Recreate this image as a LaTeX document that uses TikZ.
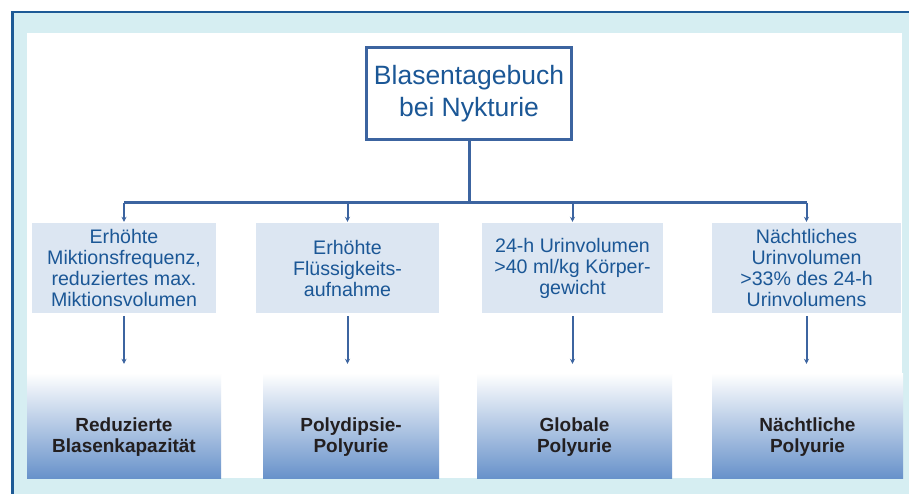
\documentclass[tikz,border=0pt]{standalone}
\usepackage{fontspec}
\setmainfont{Liberation Sans}
\usetikzlibrary{arrows.meta}
\definecolor{frameblue}{HTML}{1D5A96}
\definecolor{framecyan}{HTML}{D6EEF2}
\definecolor{linecol}{HTML}{3C64A0}
\definecolor{txtblue}{HTML}{1B5796}
\definecolor{midfill}{HTML}{DCE6F2}
\definecolor{botblue}{HTML}{6892CA}
\definecolor{darktxt}{HTML}{231F20}
\tikzset{
  topbox/.style={draw=linecol, line width=3pt, fill=white, minimum width=205pt, minimum height=92pt, align=center, text=txtblue, font=\fontsize{26.5}{31.5}\selectfont, inner sep=0pt},
  midbox/.style={fill=midfill, minimum height=90pt, align=center, text=txtblue, font=\fontsize{19.6}{21}\selectfont, inner sep=0pt},
  botbox/.style={shade, top color=white, bottom color=botblue, minimum height=105pt, inner sep=0pt},
  bottxt/.style={align=center, text=darktxt, font=\bfseries\fontsize{19}{21}\selectfont, inner sep=0pt},
  conn/.style={draw=linecol, line width=3pt},
  arr/.style={draw=linecol, line width=2pt, -{Stealth[length=5pt,width=5pt]}}
}
\begin{document}
\begin{tikzpicture}[x=1pt,y=-1pt]
\useasboundingbox (0,0) rectangle (909,494);
% frame
\fill[framecyan] (12,11) rectangle (909,494);
\draw[frameblue, line width=2.5pt] (12.5,494) -- (12.5,12) -- (909,12);
\fill[white] (27,33) rectangle (902,478);
% top
\node[topbox] (top) at (469,93.5) {Blasentagebuch\\bei Nykturie};
% middle boxes
\node[midbox, minimum width=184pt] (m1) at (124,268) {Erhöhte\\Miktionsfrequenz,\\reduziertes max.\\Miktionsvolumen};
\node[midbox, minimum width=183pt] (m2) at (347.5,268) {Erhöhte\\Flüssigkeits-\\aufnahme};
\node[midbox, minimum width=181pt] (m3) at (572.5,268) {24-h Urinvolumen\\>40 ml/kg Körper-\\gewicht};
\node[midbox, minimum width=189pt] (m4) at (806.5,268) {Nächtliches\\Urinvolumen\\>33\% des 24-h\\Urinvolumens};
% bottom boxes
\node[botbox, minimum width=194pt] (b1) at (124,425.5) {};
\node[botbox, minimum width=176pt] (b2) at (351,425.5) {};
\node[botbox, minimum width=195pt] (b3) at (574.5,425.5) {};
\node[botbox, minimum width=191pt] (b4) at (807.5,425.5) {};
\node[bottxt] (t1) at (124,437) {Reduzierte\\Blasenkapazität};
\node[bottxt] (t2) at (351,437) {Polydipsie-\\Polyurie};
\node[bottxt] (t3) at (574.5,437) {Globale\\Polyurie};
\node[bottxt] (t4) at (807.5,437) {Nächtliche\\Polyurie};
% connectors
\coordinate (bar) at (469,203);
\draw[conn] (top.south) -- (bar);
\draw[conn] (m1.north |- bar) -- (m4.north |- bar);
\foreach \m in {m1,m2,m3,m4}{
  \draw[arr, shorten >=1pt] (\m.north |- bar) -- (\m.north);
}
\foreach \m/\b in {m1/b1,m2/b2,m3/b3,m4/b4}{
  \draw[arr, shorten <=3pt, shorten >=9pt] (\m.south) -- (\m.south |- \b.north);
}
\end{tikzpicture}
\end{document}
